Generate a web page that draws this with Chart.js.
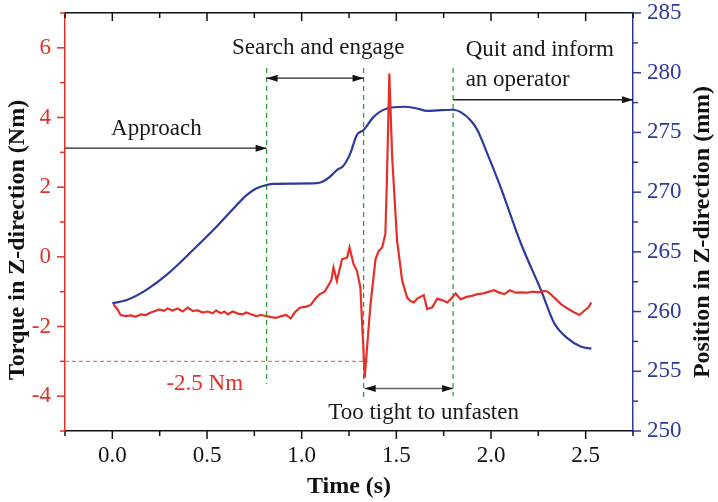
<!DOCTYPE html>
<html>
<head>
<meta charset="utf-8">
<script src="https://cdn.jsdelivr.net/npm/chart.js@4.4.0/dist/chart.umd.min.js"></script>
<style>
  html, body { margin: 0; padding: 0; background: #fff; }
</style>
</head>
<body>
<canvas id="myChart" width="718" height="502"></canvas>
<script>
// Position in Z-direction (mm), axe de droite
var posTime = [0, 0.073, 0.178, 0.285, 0.426, 0.55, 0.65, 0.709, 0.76, 0.815, 0.85, 0.95, 1.08, 1.12, 1.15, 1.186, 1.22, 1.257, 1.292, 1.327, 1.38, 1.45, 1.54, 1.61, 1.663, 1.72, 1.8, 1.84, 1.893, 1.928, 1.98, 2.05, 2.158, 2.264, 2.335, 2.405, 2.476, 2.53];
var posValues = [260.7, 260.95, 261.8, 263.05, 265.15, 267.1, 268.8, 269.75, 270.3, 270.6, 270.7, 270.72, 270.75, 270.95, 271.3, 271.85, 272.2, 273.25, 274.8, 275.2, 276.3, 277.0, 277.15, 277.0, 276.8, 276.85, 276.9, 276.7, 276.0, 275.2, 273.25, 270.45, 265.7, 261.8, 259.0, 257.75, 257.05, 256.9];

// Torque in Z-direction (Nm), axe de gauche
var torqueTime = [0.005, 0.027, 0.044, 0.071, 0.097, 0.124, 0.150, 0.177, 0.203, 0.230, 0.247, 0.274, 0.292, 0.318, 0.345, 0.371, 0.398, 0.424, 0.451, 0.477, 0.504, 0.530, 0.548, 0.574, 0.592, 0.610, 0.636, 0.663, 0.689, 0.707, 0.733, 0.760, 0.786, 0.813, 0.839, 0.866, 0.892, 0.919, 0.942, 0.963, 0.990, 1.025, 1.048, 1.069, 1.096, 1.122, 1.140, 1.157, 1.168, 1.186, 1.213, 1.240, 1.253, 1.274, 1.292, 1.310, 1.324, 1.333, 1.341, 1.363, 1.390, 1.407, 1.425, 1.442, 1.451, 1.463, 1.478, 1.504, 1.531, 1.557, 1.575, 1.593, 1.610, 1.645, 1.663, 1.690, 1.716, 1.745, 1.769, 1.790, 1.813, 1.840, 1.870, 1.900, 1.928, 1.960, 1.990, 2.016, 2.040, 2.070, 2.100, 2.130, 2.160, 2.190, 2.220, 2.250, 2.280, 2.300, 2.330, 2.370, 2.400, 2.440, 2.467, 2.494, 2.515, 2.530];
var torqueValues = [-1.36, -1.51, -1.67, -1.70, -1.68, -1.72, -1.65, -1.67, -1.60, -1.55, -1.51, -1.55, -1.48, -1.54, -1.48, -1.57, -1.46, -1.55, -1.54, -1.60, -1.57, -1.62, -1.54, -1.62, -1.57, -1.65, -1.57, -1.63, -1.65, -1.60, -1.65, -1.70, -1.67, -1.70, -1.73, -1.75, -1.70, -1.67, -1.77, -1.60, -1.46, -1.43, -1.38, -1.22, -1.07, -1.00, -0.83, -0.67, -0.31, -0.69, -0.07, -0.02, 0.27, -0.21, -0.40, -0.88, -2.42, -3.47, -2.90, -1.40, -0.07, 0.17, 0.27, 0.65, 2.38, 5.26, 2.86, 0.46, -0.69, -1.17, -1.27, -1.31, -1.20, -1.10, -1.50, -1.45, -1.20, -1.25, -1.31, -1.20, -1.05, -1.22, -1.15, -1.12, -1.07, -1.05, -1.00, -0.96, -1.02, -1.07, -0.96, -1.03, -1.02, -1.03, -1.00, -1.02, -0.98, -1.00, -1.15, -1.36, -1.47, -1.60, -1.67, -1.54, -1.45, -1.31];

// Graduations avec étiquettes
var timeMajor = [0, 0.5, 1, 1.5, 2, 2.5];
var torqueMajor = [-4, -2, 0, 2, 4, 6];
var posMajor = [250, 255, 260, 265, 270, 275, 280, 285];

// Repères des phases (s) et seuil de couple (Nm)
var phaseTimes = [0.815, 1.327, 1.80];
var torqueLimit = -3.0;

var red = '#e5302a';
var blue = '#2c3a9e';
var green = '#1e9a2a';
var serif = '"Liberation Serif", "Times New Roman", serif';

function toPoints(xs, ys) {
  return xs.map(function(x, i) { return { x: x, y: ys[i] }; });
}

function isIn(v, list) {
  return list.some(function(m) { return Math.abs(m - v) < 1e-6; });
}

function arrowHead(ctx, x, y, dir) {
  ctx.beginPath();
  ctx.moveTo(x, y);
  ctx.lineTo(x - dir * 11, y - 3.5);
  ctx.lineTo(x - dir * 11, y + 3.5);
  ctx.closePath();
  ctx.fill();
}

function hArrow(ctx, x1, x2, y, both, color) {
  ctx.save();
  ctx.strokeStyle = color;
  ctx.lineWidth = 1.4;
  ctx.beginPath();
  ctx.moveTo(x1, y);
  ctx.lineTo(x2, y);
  ctx.stroke();
  ctx.fillStyle = '#111';
  arrowHead(ctx, x2, y, 1);
  if (both) arrowHead(ctx, x1, y, -1);
  ctx.restore();
}

// on retire le débordement des étiquettes pour garder la zone de tracé fixe
function noPad(scale) {
  scale.paddingTop = 0;
  scale.paddingBottom = 0;
  scale.paddingLeft = 0;
  scale.paddingRight = 0;
}

var decorPlugin = {
  id: 'decor',
  beforeDatasetsDraw: function(chart) {
    var ctx = chart.ctx, x = chart.scales.x, yL = chart.scales.yL;
    ctx.save();
    // seuil -2.5 Nm en pointillés rouges
    ctx.strokeStyle = '#f0746b';
    ctx.lineWidth = 1.2;
    ctx.setLineDash([4, 3]);
    ctx.beginPath();
    ctx.moveTo(x.getPixelForValue(-0.25), yL.getPixelForValue(torqueLimit));
    ctx.lineTo(x.getPixelForValue(1.352), yL.getPixelForValue(torqueLimit));
    ctx.stroke();
    // lignes verticales des phases
    ctx.strokeStyle = green;
    ctx.lineWidth = 1.2;
    ctx.setLineDash([5, 4]);
    var bottoms = [-3.65, -4.05, -4.0];
    phaseTimes.forEach(function(t, i) {
      ctx.beginPath();
      ctx.moveTo(x.getPixelForValue(t), yL.getPixelForValue(5.42));
      ctx.lineTo(x.getPixelForValue(t), yL.getPixelForValue(bottoms[i]));
      ctx.stroke();
    });
    ctx.restore();
  },
  afterDraw: function(chart) {
    var ctx = chart.ctx, a = chart.chartArea;
    var x = chart.scales.x, yL = chart.scales.yL, yR = chart.scales.yR;
    ctx.save();

    // graduations
    ctx.lineWidth = 1.5;
    ctx.strokeStyle = '#111';
    x.ticks.forEach(function(t) {
      var px = x.getPixelForValue(t.value);
      var len = isIn(t.value, timeMajor) ? 8 : 5;
      ctx.beginPath();
      ctx.moveTo(px, a.bottom); ctx.lineTo(px, a.bottom + len);
      ctx.moveTo(px, a.top); ctx.lineTo(px, a.top + len);
      ctx.stroke();
    });
    ctx.strokeStyle = red;
    yL.ticks.forEach(function(t) {
      var py = yL.getPixelForValue(t.value);
      var len = isIn(t.value, torqueMajor) ? 8 : 5;
      ctx.beginPath();
      ctx.moveTo(a.left - len, py); ctx.lineTo(a.left, py);
      ctx.stroke();
    });
    ctx.strokeStyle = blue;
    yR.ticks.forEach(function(t) {
      var py = yR.getPixelForValue(t.value);
      var len = isIn(t.value, posMajor) ? 8 : 5;
      ctx.beginPath();
      ctx.moveTo(a.right, py); ctx.lineTo(a.right + len, py);
      ctx.stroke();
    });

    // titres des axes
    ctx.fillStyle = '#111';
    ctx.font = 'bold 24px ' + serif;
    ctx.textAlign = 'center';
    ctx.textBaseline = 'middle';
    ctx.fillText('Time (s)', (a.left + a.right) / 2, 487);
    ctx.save();
    ctx.translate(18, 240);
    ctx.rotate(-Math.PI / 2);
    ctx.fillText('Torque in Z-direction (Nm)', 0, 0);
    ctx.restore();
    ctx.save();
    ctx.translate(703, 232);
    ctx.rotate(-Math.PI / 2);
    ctx.fillText('Position in Z-direction (mm)', 0, 0);
    ctx.restore();

    // flèches des phases
    var px = function(v) { return x.getPixelForValue(v); };
    var py = function(v) { return yL.getPixelForValue(v); };
    hArrow(ctx, px(-0.25), px(phaseTimes[0]), py(3.12), false, '#222');
    hArrow(ctx, px(phaseTimes[0]), px(phaseTimes[1]), py(5.13), true, '#222');
    hArrow(ctx, px(phaseTimes[2]), px(2.75), py(4.51), false, '#222');
    hArrow(ctx, px(1.333), px(phaseTimes[2]), py(-3.78), true, '#666');

    // textes
    ctx.font = '23px ' + serif;
    ctx.fillStyle = '#1a1a1a';
    ctx.textAlign = 'center';
    ctx.fillText('Approach', px(0.233), py(3.68));
    ctx.fillText('Search and engage', px(1.087), py(6.0));
    ctx.fillText('Too tight to unfasten', px(1.644), py(-4.49));
    ctx.textAlign = 'left';
    ctx.fillText('Quit and inform', px(1.866), py(5.93));
    ctx.fillText('an operator', px(1.866), py(5.07));
    ctx.textAlign = 'center';
    ctx.fillStyle = red;
    ctx.fillText('-2.5 Nm', px(0.488), py(-3.65));
    ctx.restore();
  }
};

var ctx = document.getElementById('myChart').getContext('2d');
var myChart = new Chart(ctx, {
  type: 'line',
  data: {
    datasets: [{
      label: 'Torque',
      data: toPoints(torqueTime, torqueValues),
      yAxisID: 'yL',
      borderColor: red,
      borderWidth: 2.2,
      pointRadius: 0,
      tension: 0
    }, {
      label: 'Position',
      data: toPoints(posTime, posValues),
      yAxisID: 'yR',
      borderColor: blue,
      borderWidth: 2.2,
      pointRadius: 0,
      cubicInterpolationMode: 'monotone'
    }]
  },
  options: {
    responsive: false,
    animation: false,
    layout: { padding: 0 },
    plugins: {
      legend: { display: false },
      tooltip: { enabled: false }
    },
    scales: {
      x: {
        type: 'linear',
        position: 'bottom',
        min: -0.25,
        max: 2.75,
        grid: { display: false, drawTicks: true, tickLength: 8 },
        border: { color: '#111', width: 1.5 },
        ticks: {
          stepSize: 0.25,
          autoSkip: false,
          maxRotation: 0,
          padding: 3,
          color: '#111',
          font: { family: serif, size: 23 },
          callback: function(value) {
            return isIn(value, timeMajor) ? value.toFixed(1) : '';
          }
        },
        afterFit: function(scale) { scale.height = 71; noPad(scale); }
      },
      x2: {
        type: 'linear',
        position: 'top',
        min: -0.25,
        max: 2.75,
        grid: { display: false },
        border: { color: '#111', width: 1.5 },
        ticks: { display: false },
        afterFit: function(scale) { scale.height = 13; noPad(scale); }
      },
      yL: {
        type: 'linear',
        position: 'left',
        min: -5,
        max: 7,
        grid: { display: false, drawTicks: true, tickLength: 8 },
        border: { color: red, width: 1.5 },
        ticks: {
          stepSize: 1,
          autoSkip: false,
          padding: 6,
          color: red,
          font: { family: serif, size: 23 },
          callback: function(value) {
            return isIn(value, torqueMajor) ? String(value) : '';
          }
        },
        afterFit: function(scale) { scale.width = 65; noPad(scale); }
      },
      yR: {
        type: 'linear',
        position: 'right',
        min: 250,
        max: 285,
        grid: { display: false, drawTicks: true, tickLength: 8 },
        border: { color: blue, width: 1.5 },
        ticks: {
          stepSize: 2.5,
          autoSkip: false,
          padding: 6,
          color: blue,
          font: { family: serif, size: 23 },
          callback: function(value) {
            return isIn(value, posMajor) ? String(value) : '';
          }
        },
        afterFit: function(scale) { scale.width = 85; noPad(scale); }
      }
    }
  },
  plugins: [decorPlugin]
});
</script>
</body>
</html>
